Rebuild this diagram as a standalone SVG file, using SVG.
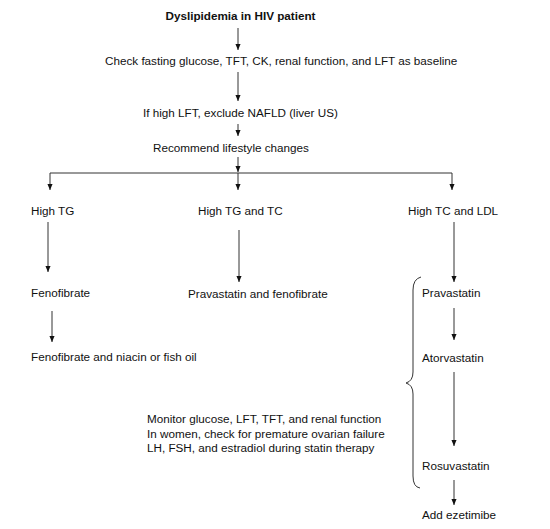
<svg xmlns="http://www.w3.org/2000/svg" width="550" height="529" viewBox="0 0 550 529">
<style>
text{font-family:"Liberation Sans",Arial,sans-serif;font-size:11.7px;fill:#111}
.b{font-weight:bold}
.c{stroke:#333;stroke-width:1;fill:none}
</style>
<defs>
<marker id="a" markerWidth="6" markerHeight="7" refX="7" refY="3" orient="auto" markerUnits="userSpaceOnUse" viewBox="0 0 7 6">
<path d="M0,0 L7,3 L0,6 Z" fill="#111"/>
</marker>
</defs>
<rect width="550" height="529" fill="#fff"/>
<g id="connectors">
<line class="c" x1="238" y1="28" x2="238" y2="50" marker-end="url(#a)"/>
<line class="c" x1="238" y1="72" x2="238" y2="101" marker-end="url(#a)"/>
<line class="c" x1="238" y1="124" x2="238" y2="136" marker-end="url(#a)"/>
<line class="c" x1="238" y1="157" x2="238" y2="172" marker-end="url(#a)"/>
<line class="c" x1="50" y1="173" x2="452" y2="173"/>
<line class="c" x1="50" y1="173" x2="50" y2="190" marker-end="url(#a)"/>
<line class="c" x1="452" y1="173" x2="452" y2="190" marker-end="url(#a)"/>
<line class="c" x1="238" y1="173" x2="238" y2="190" marker-end="url(#a)"/>
<line class="c" x1="48" y1="222" x2="48" y2="272" marker-end="url(#a)"/>
<line class="c" x1="52" y1="311" x2="52" y2="342" marker-end="url(#a)"/>
<line class="c" x1="239" y1="230" x2="239" y2="282" marker-end="url(#a)"/>
<line class="c" x1="454" y1="222" x2="454" y2="282" marker-end="url(#a)"/>
<line class="c" x1="454" y1="308" x2="454" y2="340" marker-end="url(#a)"/>
<line class="c" x1="454" y1="372" x2="454" y2="446" marker-end="url(#a)"/>
<line class="c" x1="454" y1="480" x2="454" y2="505" marker-end="url(#a)"/>
<path id="brace" class="c" d="M421,277 Q413,279 413,290 L413,372 Q413,381 406,383 Q413,385 413,394 L413,476 Q413,487 420,488"/>
</g>
<g id="n-title"><text class="b" x="240.5" y="20" text-anchor="middle">Dyslipidemia in HIV patient</text></g>
<g id="n-check"><text x="105" y="65">Check fasting glucose, TFT, CK, renal function, and LFT as baseline</text></g>
<g id="n-lft"><text x="143" y="117">If high LFT, exclude NAFLD (liver US)</text></g>
<g id="n-lifestyle"><text x="153" y="152">Recommend lifestyle changes</text></g>
<g id="n-tg"><text x="31" y="215">High TG</text></g>
<g id="n-tgtc"><text x="198" y="215">High TG and TC</text></g>
<g id="n-tcldl"><text x="408" y="215">High TC and LDL</text></g>
<g id="n-feno"><text x="31" y="297">Fenofibrate</text></g>
<g id="n-fenoniacin"><text x="31" y="361">Fenofibrate and niacin or fish oil</text></g>
<g id="n-pravafeno"><text x="188" y="298">Pravastatin and fenofibrate</text></g>
<g id="n-prava"><text x="422" y="297">Pravastatin</text></g>
<g id="n-atorva"><text x="422" y="362">Atorvastatin</text></g>
<g id="n-rosuva"><text x="422" y="470">Rosuvastatin</text></g>
<g id="n-ezet"><text x="422" y="519">Add ezetimibe</text></g>
<g id="n-monitor">
<text x="147" y="423">Monitor glucose, LFT, TFT, and renal function</text>
<text x="147" y="438">In women, check for premature ovarian failure</text>
<text x="147" y="452">LH, FSH, and estradiol during statin therapy</text>
</g>
</svg>
